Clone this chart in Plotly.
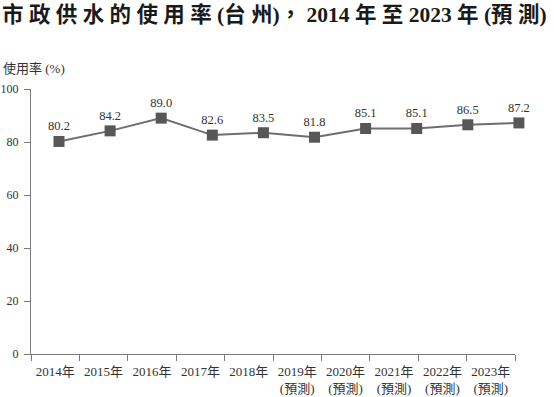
import plotly.graph_objects as go

years = ["2014年", "2015年", "2016年", "2017年", "2018年",
         "2019年<br>(預測)", "2020年<br>(預測)", "2021年<br>(預測)",
         "2022年<br>(預測)", "2023年<br>(預測)"]
usage_rate = [80.2, 84.2, 89.0, 82.6, 83.5, 81.8, 85.1, 85.1, 86.5, 87.2]
label_text = ["80.2", "84.2", "89.0", "82.6", "83.5", "81.8", "85.1", "85.1", "86.5", "87.2"]
y_ticks = [0, 20, 40, 60, 80, 100]
title_text = "市政供水的使用率(台州)，2014年至2023年(預測)"

W, H = 554, 397
SERIF = "Liberation Serif, Noto Sans CJK TC, serif"
TXT = "#333333"
AX = "#7a7a7a"

# spread CJK characters like the original's wide letter spacing
spaced = ""
for i, ch in enumerate(title_text):
    spaced += ch
    nxt = title_text[i + 1] if i + 1 < len(title_text) else ""
    if nxt and not (ch.isdigit() and nxt.isdigit()) and ch not in "(（" and nxt not in ")），":
        spaced += " "

fig = go.Figure()

fig.add_trace(go.Scatter(x=years, y=[None] * len(years), xaxis="x", yaxis="y",
                         mode="markers", showlegend=False, hoverinfo="skip"))

fig.add_trace(go.Scatter(
    x=years, y=usage_rate, xaxis="x2", yaxis="y",
    mode="lines+markers+text",
    line=dict(color="#6e6e6e", width=2),
    marker=dict(symbol="square", size=11, color="#575757"),
    text=label_text, textposition="top center",
    textfont=dict(family=SERIF, size=12.5, color=TXT),
    cliponaxis=False, showlegend=False))

x0, x1 = 31 / W, 515 / W
ybot, ytop = (H - 354) / H, (H - 89) / H

fig.update_layout(
    width=W, height=H,
    margin=dict(l=0, r=0, t=0, b=0, autoexpand=False),
    paper_bgcolor="white", plot_bgcolor="white",
    xaxis=dict(type="category", domain=[x0, x1], anchor="y",
               categoryorder="array", categoryarray=years,
               range=[-0.5, 9.5], automargin=False, tickangle=0,
               showline=True, linecolor=AX, linewidth=1.3,
               ticks="outside", tickson="boundaries", ticklen=6,
               tickcolor=AX, tickwidth=1.3, showgrid=False, zeroline=False,
               ticklabelstandoff=5,
               tickfont=dict(family=SERIF, size=13, color=TXT)),
    xaxis2=dict(type="category", domain=[x0, 535 / W], anchor="y",
                categoryorder="array", categoryarray=years,
                range=[-0.548, 9.217 + (535 - 530) / 51.1], automargin=False,
                visible=False, showgrid=False, zeroline=False),
    yaxis=dict(domain=[ybot, ytop], anchor="x", range=[0, 100], automargin=False,
               tickvals=y_ticks, showline=True, linecolor=AX, linewidth=1.3,
               ticks="outside", ticklen=6, tickcolor=AX, tickwidth=1.3,
               showgrid=False, zeroline=False, ticklabelstandoff=3,
               tickfont=dict(family=SERIF, size=12, color=TXT)),
    annotations=[
        dict(text="<b>" + spaced + "</b>",
             x=0.0, y=1.0, xref="paper", yref="paper",
             xanchor="left", yanchor="top", xshift=0, yshift=0, showarrow=False,
             font=dict(family=SERIF, size=21.5, color="#1a1a1a")),
        dict(text="使用率 (%)", x=0.0, y=(H - 68) / H, xref="paper", yref="paper",
             xanchor="left", yanchor="middle", xshift=1, showarrow=False,
             font=dict(family=SERIF, size=13, color=TXT)),
    ],
)

fig.write_html("out.html", config={"displayModeBar": False},
               post_script="document.body.style.margin='0';document.body.style.overflow='hidden';")
